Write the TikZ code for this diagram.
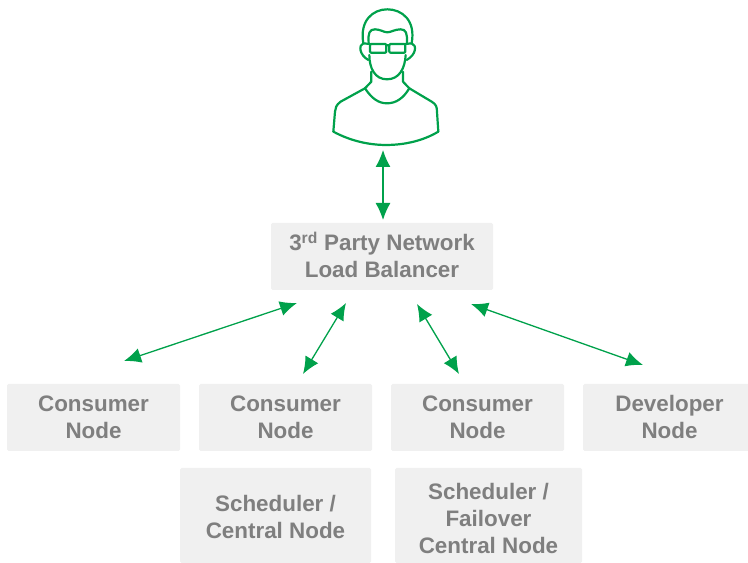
\documentclass[tikz,border=0pt]{standalone}
\usepackage{fontspec}
\setmainfont{Liberation Sans}
\usetikzlibrary{arrows.meta}
\definecolor{linkgreen}{HTML}{00A14B}
\definecolor{boxgray}{HTML}{F0F0F0}
\definecolor{textgray}{HTML}{7F7F7F}
\tikzset{
  box/.style={fill=boxgray,rounded corners=1.5bp,inner sep=0pt,align=center,text=textgray,
    font=\fontsize{22.4bp}{27bp}\selectfont\bfseries},
  link/.style={linkgreen,line width=1.3bp,<->},
  person/.style={linkgreen,line width=2.2bp,line join=round,line cap=round},
}
\begin{document}
\begin{tikzpicture}[>={Latex[length=17bp,width=15bp]},line join=bevel,]
\useasboundingbox (0bp,0bp) rectangle (748bp,563bp);
%%
\node (node_lb) at (382bp,306.5bp) [box,minimum width=222bp,minimum height=67bp] {3\textsuperscript{rd} Party Network\\Load Balancer\rule[-3bp]{0pt}{0pt}};
  \node (node_c1) at (93.5bp,145.5bp) [box,minimum width=173bp,minimum height=67bp] {Consumer\\Node};
  \node (node_c2) at (285.5bp,145.5bp) [box,minimum width=173bp,minimum height=67bp] {Consumer\\Node};
  \node (node_c3) at (477.5bp,145.5bp) [box,minimum width=173bp,minimum height=67bp] {Consumer\\Node};
  \node (node_dev) at (669.5bp,145.5bp) [box,minimum width=173bp,minimum height=67bp] {Developer\\Node\rule[-2bp]{0pt}{0pt}};
  \node (node_sched) at (275.5bp,47.5bp) [box,minimum width=191bp,minimum height=95bp] {\rule{0pt}{18.4bp}Scheduler /\\Central Node};
  \node (node_fail) at (488.5bp,47.5bp) [box,minimum width=187bp,minimum height=95bp] {\rule{0pt}{22.4bp}Scheduler /\\Failover\\Central Node};
%
  \coordinate (user_end) at (383bp,413bp);
  \coordinate (lb_top) at (383bp,343bp);
  \coordinate (lb_a) at (297bp,260bp);
  \coordinate (lb_b) at (346bp,260bp);
  \coordinate (lb_c) at (417bp,259bp);
  \coordinate (lb_d) at (471bp,259bp);
  \coordinate (c1_top) at (124bp,202bp);
  \coordinate (c2_top) at (303bp,189bp);
  \coordinate (c3_top) at (459bp,189bp);
  \coordinate (dev_top) at (643bp,198bp);
  \draw [link] (user_end) -- (lb_top);
  \draw [link] (c1_top) -- (lb_a);
  \draw [link] (c2_top) -- (lb_b);
  \draw [link] (c3_top) -- (lb_c);
  \draw [link] (dev_top) -- (lb_d);
%
\begin{scope}[shift={(310bp,563bp)},x=0.3333bp,y=-0.3333bp,person]
  \draw (160,130) .. controls (148,60) and (190,28) .. (232,28) .. controls (275,28) and (318,60) .. (305,130);
  \draw (176,128) .. controls (174,100) and (178,88) .. (195,88) .. controls (210,88) and (222,97) .. (232,97) .. controls (242,97) and (255,88) .. (272,88) .. controls (288,88) and (292,100) .. (291,128);
  \draw [rounded corners=1bp] (180,132) rectangle (229,158);
  \draw [rounded corners=1bp] (238,132) rectangle (286,158);
  \draw (160,130) -- (180,132) (229,136) -- (238,136) (286,132) -- (305,130);
  \draw (160,130) .. controls (145,135) and (148,165) .. (175,180);
  \draw (305,130) .. controls (322,135) and (318,165) .. (290,180);
  \draw (178,165) .. controls (178,205) and (195,238) .. (231,238) .. controls (268,238) and (285,205) .. (287,165);
  \draw (184,215) -- (184,245) -- (165,265);
  \draw (279,215) -- (279,245) -- (298,265);
  \draw (165,265) .. controls (185,295) and (205,310) .. (231,310) .. controls (258,310) and (280,295) .. (298,265);
  \draw (165,265) -- (92,305) .. controls (78,315) and (76,325) .. (75,335) -- (70,395);
  \draw (298,265) -- (365,305) .. controls (378,313) and (381,320) .. (381,335) -- (385,395);
  \draw (70,395) .. controls (120,422) and (175,435) .. (228,435) .. controls (285,435) and (340,422) .. (385,395);
\end{scope}
%
\end{tikzpicture}
\end{document}
